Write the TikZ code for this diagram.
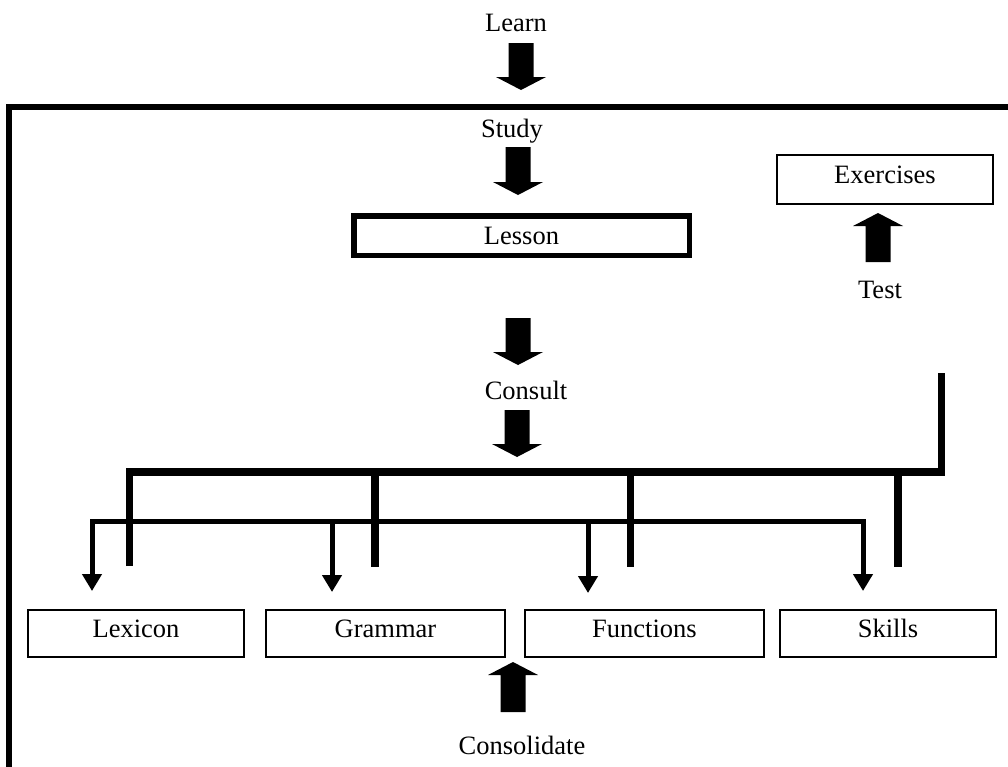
\documentclass[tikz,border=0pt]{standalone}
\usepackage{fontspec}
\setmainfont{Liberation Serif}
\usetikzlibrary{arrows.meta,calc}
\begin{document}
\begin{tikzpicture}[x=1pt,y=-1pt,
  txt/.style={inner sep=0pt, font=\fontsize{26.5}{30}\selectfont},
  thinbox/.style={draw, line width=1.6pt, inner sep=0pt, font=\fontsize{26.5}{30}\selectfont,
    text height=18pt, text depth=10.5pt},
  thickbox/.style={draw, line width=5.5pt, inner sep=0pt, font=\fontsize{26.5}{30}\selectfont},
  blockarrow/.style={to path={let \p1=(\tikztostart), \p2=(\tikztotarget), \n1={sign(\y1-\y2)} in
      (\x1-12.5pt,\y1) -- (\x1-12.5pt,\y2+\n1*13pt) -- (\x1-25pt,\y2+\n1*13pt) -- (\x1,\y2)
      -- (\x1+25pt,\y2+\n1*13pt) -- (\x1+12.5pt,\y2+\n1*13pt) -- (\x1+12.5pt,\y1) -- cycle}},
  busthick/.style={line width=7.5pt, line join=miter},
  busthin/.style={line width=5pt, line join=miter},
  smalltip/.tip={Triangle[width=19pt,length=17pt]}
]
\useasboundingbox (0,0) rectangle (1008,766);

% frame
\draw[line width=6pt, line join=miter] (9,770) -- (9,106.5) -- (1012,106.5);

% labels
\node[txt] (learn) at (516,23) {Learn};
\node[txt] (study) at (512,131) {Study};
\node[txt] (consult) at (526,390) {Consult};
\node[txt] (test) at (880,290) {Test};
\node[txt] (consolidate) at (522,745) {Consolidate};

% boxes
\node[thickbox, minimum width=335.5pt, minimum height=39.5pt] (lesson) at (521.5,235.5) {Lesson};
\node[thinbox, minimum width=216pt, minimum height=49pt] (exercises) at (885,179.5) {Exercises};
\node[thinbox, minimum width=216pt, minimum height=47pt] (lex) at (136,633.5) {Lexicon};
\node[thinbox, minimum width=239pt, minimum height=47pt] (gram) at (385.5,633.5) {Grammar};
\node[thinbox, minimum width=239pt, minimum height=47pt] (func) at (644.5,633.5) {Functions};
\node[thinbox, minimum width=216pt, minimum height=47pt] (skills) at (888,633.5) {Skills};

% block arrow end points
\coordinate (a1s) at (521,43);   \coordinate (a1e) at (521,90);
\coordinate (a2s) at (518,147);  \coordinate (a2e) at (518,195);
\coordinate (a3s) at (518,318);  \coordinate (a3e) at (518,365);
\coordinate (a4s) at (517,410);  \coordinate (a4e) at (517,457);
\coordinate (a5s) at (878,262);  \coordinate (a5e) at (878,213);
\coordinate (a6s) at (513,712);  \coordinate (a6e) at (513,662);

\fill[blockarrow] (a1s) to (a1e);
\fill[blockarrow] (a2s) to (a2e);
\fill[blockarrow] (a3s) to (a3e);
\fill[blockarrow] (a4s) to (a4e);
\fill[blockarrow] (a5s) to (a5e);
\fill[blockarrow] (a6s) to (a6e);

% upper bus
\coordinate (ubTop) at (941.5,373);
\coordinate (ubR) at (941.5,472);
\coordinate (ubL) at (129.5,472);
\coordinate (ud1) at (129.5,566);
\coordinate (uj2) at (375,472);   \coordinate (ud2) at (375,567);
\coordinate (uj3) at (630.5,472); \coordinate (ud3) at (630.5,567);
\coordinate (uj4) at (898,472);   \coordinate (ud4) at (898,567);
\draw[busthick] (ud1) -- (ubL) -- (ubR) -- (ubTop);
\draw[busthick] (uj2) -- (ud2);
\draw[busthick] (uj3) -- (ud3);
\draw[busthick] (uj4) -- (ud4);

% lower bus
\coordinate (lb1) at (92,591);
\coordinate (lbL) at (92,521.5);
\coordinate (lbR) at (863,521.5);
\coordinate (lb4) at (863,591);
\coordinate (lj2) at (332,521.5); \coordinate (lb2) at (332,592);
\coordinate (lj3) at (588,521.5); \coordinate (lb3) at (588,593);
\draw[busthin, {smalltip}-{smalltip}] (lb1) -- (lbL) -- (lbR) -- (lb4);
\draw[busthin, -{smalltip}] (lj2) -- (lb2);
\draw[busthin, -{smalltip}] (lj3) -- (lb3);
\end{tikzpicture}
\end{document}
